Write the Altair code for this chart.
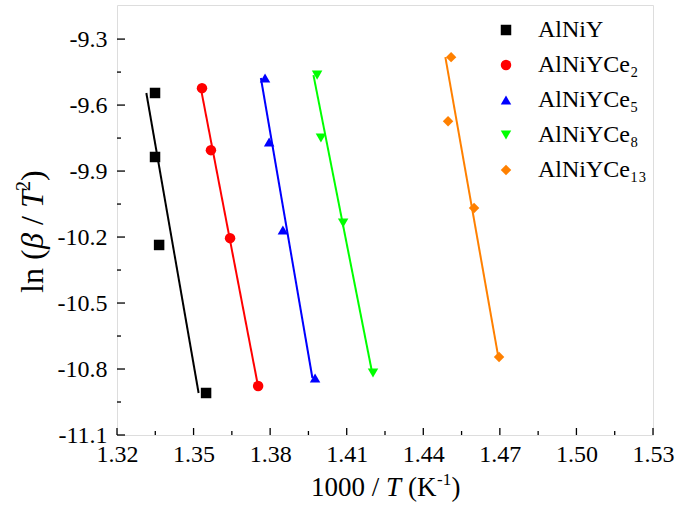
import altair as alt
import pandas as pd

# Kissinger plot data: 1000/T (K^-1) and ln(beta/T^2) for each alloy
series = ["AlNiY", "AlNiYCe₂", "AlNiYCe₅", "AlNiYCe₈", "AlNiYCe₁₃"]
colors = ["#000000", "#FF0000", "#0000FF", "#00FF00", "#FF8000"]
shapes = ["square", "circle", "triangle-up", "triangle-down", "diamond"]

x_alniy = [1.3349, 1.3349, 1.3365, 1.3549]
y_alniy = [-9.545, -9.836, -10.236, -10.909]
x_ce2 = [1.3533, 1.3568, 1.3643, 1.3753]
y_ce2 = [-9.523, -9.805, -10.205, -10.877]
x_ce5 = [1.3780, 1.3796, 1.3850, 1.3976]
y_ce5 = [-9.477, -9.768, -10.168, -10.841]
x_ce8 = [1.3984, 1.3999, 1.4086, 1.4203]
y_ce8 = [-9.464, -9.750, -10.136, -10.818]
x_ce13 = [1.4509, 1.4497, 1.4599, 1.4697]
y_ce13 = [-9.382, -9.673, -10.068, -10.745]

x_major = [1.32, 1.35, 1.38, 1.41, 1.44, 1.47, 1.50, 1.53]
x_minor = [1.335, 1.365, 1.395, 1.425, 1.455, 1.485, 1.515]
y_major = [-11.1, -10.8, -10.5, -10.2, -9.9, -9.6, -9.3]
y_minor = [-10.95, -10.65, -10.35, -10.05, -9.75, -9.45]

xs = [x_alniy, x_ce2, x_ce5, x_ce8, x_ce13]
ys = [y_alniy, y_ce2, y_ce5, y_ce8, y_ce13]
rows = []
for name, xv, yv in zip(series, xs, ys):
    for a, b in zip(xv, yv):
        rows.append({"series": name, "x": a, "y": b})
df = pd.DataFrame(rows)

W, H = 536, 430
FONT = "Liberation Serif"

xscale = alt.Scale(domain=[1.32, 1.53], nice=False, zero=False)
yscale = alt.Scale(domain=[-11.1, -9.145], nice=False, zero=False)
color_scale = alt.Scale(domain=series, range=colors)
shape_scale = alt.Scale(domain=series, range=shapes)

xaxis = alt.Axis(
    values=x_major, ticks=False, domain=False, grid=False,
    labelExpr="format(datum.value, '.2f')", labelFlush=False, labelOverlap=False,
    labelFont=FONT, labelFontSize=24, labelColor="black", labelPadding=7,
    title=None,
)
yaxis = alt.Axis(
    values=y_major, ticks=False, domain=False, grid=False,
    labelExpr="replace(format(datum.value, '.1f'), '\u2212', '-')",
    labelFlush=False, labelOverlap=False,
    labelFont=FONT, labelFontSize=24, labelColor="black", labelPadding=10,
    title=None,
)
legend = alt.Legend(
    title=None, orient="none", legendX=377, legendY=13,
    labelFont=FONT, labelFontSize=24, labelColor="black",
    symbolSize=110, symbolStrokeWidth=0, labelOffset=20,
    rowPadding=11, padding=0,
)

# Fitted lines: x regressed on y, spanning the data range of y
lines = alt.Chart(df).transform_regression(
    "y", "x", groupby=["series"]
).mark_line(strokeWidth=2).encode(
    x=alt.X("x:Q", scale=xscale, axis=xaxis),
    y=alt.Y("y:Q", scale=yscale, axis=yaxis),
    color=alt.Color("series:N", scale=color_scale, legend=legend),
    detail="series:N",
    order="y:Q",
)

points = alt.Chart(df).mark_point(filled=True, opacity=1, size=110).encode(
    x=alt.X("x:Q", scale=xscale, axis=xaxis),
    y=alt.Y("y:Q", scale=yscale, axis=yaxis),
    color=alt.Color("series:N", scale=color_scale, legend=legend),
    shape=alt.Shape("series:N", scale=shape_scale, legend=legend),
)

# Inward tick marks on the bottom and left axes
tick_style = dict(color="black", strokeWidth=1.3)
xt_major = alt.Chart(pd.DataFrame({"x": x_major})).mark_rule(**tick_style).encode(
    x=alt.X("x:Q", scale=xscale, axis=xaxis), y=alt.value(H), y2=alt.value(H - 7)
)
xt_minor = alt.Chart(pd.DataFrame({"x": x_minor})).mark_rule(**tick_style).encode(
    x=alt.X("x:Q", scale=xscale, axis=xaxis), y=alt.value(H), y2=alt.value(H - 4)
)
yt_major = alt.Chart(pd.DataFrame({"y": y_major})).mark_rule(**tick_style).encode(
    y=alt.Y("y:Q", scale=yscale, axis=yaxis), x=alt.value(0), x2=alt.value(8)
)
yt_minor = alt.Chart(pd.DataFrame({"y": y_minor})).mark_rule(**tick_style).encode(
    y=alt.Y("y:Q", scale=yscale, axis=yaxis), x=alt.value(0), x2=alt.value(4)
)


def piece(text, px, py, size, italic=False, angle=0):
    """One run of an axis title, so that symbols can be set in italics."""
    return alt.Chart(pd.DataFrame({"t": [text]})).mark_text(
        font=FONT, fontSize=size, fontStyle="italic" if italic else "normal",
        align="left", baseline="alphabetic", angle=angle, color="black",
    ).encode(text="t:N", x=alt.value(px), y=alt.value(py))


# x-axis title: 1000 / T (K^-1)
XS, XB = 27, 491
x0 = 194
x_title = [
    piece("1000 /", x0, XB, XS),
    piece("T", x0 + 75, XB, XS, italic=True),
    piece("(K", x0 + 97, XB, XS),
    piece("-1", x0 + 126, XB - 11, 17),
    piece(")", x0 + 140.5, XB, XS),
]

# y-axis title: ln (beta / T^2), reading bottom to top
YS, YB = 32, -74
y0 = 288
y_title = [
    piece("ln", YB, y0, YS, angle=270),
    piece("(", YB, y0 - 33, YS, angle=270),
    piece("β", YB, y0 - 44, YS, italic=True, angle=270),
    piece("/", YB, y0 - 68, YS, angle=270),
    piece("T", YB, y0 - 85, YS, italic=True, angle=270),
    piece("2", YB - 13, y0 - 102, 20, angle=270),
    piece(")", YB, y0 - 112, YS, angle=270),
]

chart = alt.layer(
    lines, points, xt_major, xt_minor, yt_major, yt_minor, *x_title, *y_title
).properties(
    width=W, height=H,
    autosize=alt.AutoSizeParams(type="none"),
    padding={"left": 117, "top": 5, "right": 44, "bottom": 74},
).configure_view(
    stroke="black", strokeWidth=1.5
).configure_axis(
    labelFont=FONT, labelFontSize=24, labelColor="black"
).configure(background="white")

chart.save("out.html", embed_options={"renderer": "svg", "actions": False})
